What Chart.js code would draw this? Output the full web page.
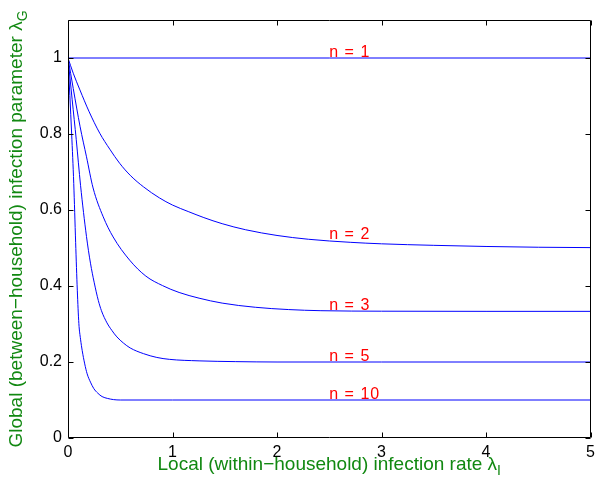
<!DOCTYPE html>
<html>
<head>
<meta charset="utf-8">
<script src="https://cdn.jsdelivr.net/npm/chart.js@4.4.1/dist/chart.umd.min.js"></script>
<style>
  html, body { margin: 0; padding: 0; background: #fff; }
  #wrap { width: 600px; height: 479px; }
</style>
</head>
<body>
<div id="wrap"><canvas id="chart" width="600" height="479"></canvas></div>
<script>
// values
const n1X = [0, 5]
const n1Y = [1, 1]
const n2X = [0, 0.05, 0.114, 0.2, 0.304, 0.4, 0.494, 0.6, 0.722, 0.874, 1.0, 1.15, 1.3, 1.475, 1.7, 2.0, 2.3, 2.7, 3.0, 3.5, 4.0, 4.5, 5.0]
const n2Y = [1, 0.96, 0.916, 0.86, 0.802, 0.76, 0.723, 0.69, 0.661, 0.632, 0.613, 0.596, 0.58, 0.564, 0.548, 0.533, 0.523, 0.515, 0.511, 0.507, 0.504, 0.502, 0.501]
const n3X = [0, 0.05, 0.116, 0.177, 0.24, 0.337, 0.432, 0.59, 0.745, 0.905, 1.063, 1.254, 1.475, 1.792, 2.108, 2.42, 3.0, 4.0, 5.0]
const n3Y = [1, 0.92, 0.819, 0.74, 0.658, 0.582, 0.529, 0.468, 0.426, 0.401, 0.383, 0.368, 0.355, 0.344, 0.338, 0.335, 0.3337, 0.3333, 0.3333]
const n5X = [0, 0.04, 0.079, 0.12, 0.177, 0.215, 0.25, 0.29, 0.32, 0.373, 0.42, 0.468, 0.53, 0.595, 0.722, 0.85, 0.969, 1.254, 1.6, 2.0, 3.0, 5.0]
const n5Y = [1, 0.89, 0.785, 0.665, 0.53, 0.46, 0.41, 0.362, 0.335, 0.303, 0.283, 0.266, 0.25, 0.237, 0.222, 0.212, 0.207, 0.203, 0.201, 0.2, 0.2, 0.2]
const n10X = [0, 0.035, 0.055, 0.073, 0.089, 0.104, 0.12, 0.136, 0.16, 0.183, 0.215, 0.247, 0.285, 0.326, 0.38, 0.437, 0.5, 1.0, 5.0]
const n10Y = [1, 0.8, 0.67, 0.515, 0.389, 0.301, 0.26, 0.23, 0.195, 0.169, 0.147, 0.13, 0.118, 0.109, 0.104, 0.101, 0.1, 0.1, 0.1]

const curveLabels = ['n = 1', 'n = 2', 'n = 3', 'n = 5', 'n = 10']
const labelX = [2.5, 2.5, 2.5, 2.5, 2.5]
const labelY = [1, 0.52, 0.335, 0.2, 0.1]

const xTicks = [0, 1, 2, 3, 4, 5]
const yTicks = [0, 0.2, 0.4, 0.6, 0.8, 1]

const xTitle = 'Local (within\u2212household) infection rate \u03bb'
const xTitleSub = 'I'
const yTitle = 'Global (between\u2212household) infection parameter \u03bb'
const yTitleSub = 'G'

const GREEN = '#118811'
const FONT = '"Liberation Sans", Arial, Helvetica, sans-serif'

const pts = (xs, ys) => xs.map((x, i) => ({ x, y: ys[i] }))
const line = (xs, ys) => ({ data: pts(xs, ys), borderColor: '#0000ff', borderWidth: 1, pointRadius: 0, cubicInterpolationMode: 'monotone', fill: false })

// frame, inward ticks, curve labels, axis titles
const decor = {
  id: 'decor',
  afterDraw(chart){
    const ctx = chart.ctx
    const a = chart.chartArea
    const xs = chart.scales.x, ys = chart.scales.y
    ctx.save()
    ctx.strokeStyle = '#000'
    ctx.lineWidth = 1
    const L = Math.round(a.left) + 0.5, R = Math.round(a.right) - 0.5
    const T = Math.round(a.top) + 0.5, B = Math.round(a.bottom) - 0.5
    ctx.beginPath()
    ctx.rect(L, T, R - L, B - T)
    xTicks.forEach(v => {
      const p = Math.round(xs.getPixelForValue(v)) + 0.5
      ctx.moveTo(p, B); ctx.lineTo(p, B - 5)
      ctx.moveTo(p, T); ctx.lineTo(p, T + 5)
    })
    yTicks.forEach(v => {
      const p = Math.round(ys.getPixelForValue(v)) + 0.5
      ctx.moveTo(L, p); ctx.lineTo(L + 5, p)
      ctx.moveTo(R, p); ctx.lineTo(R - 5, p)
    })
    ctx.stroke()

    // curve labels
    ctx.fillStyle = '#ff0000'
    ctx.font = '16px ' + FONT
    if ('letterSpacing' in ctx) ctx.letterSpacing = '1px'
    ctx.textBaseline = 'alphabetic'
    ctx.textAlign = 'left'
    curveLabels.forEach((t, i) => {
      ctx.fillText(t, xs.getPixelForValue(labelX[i]), ys.getPixelForValue(labelY[i]) - 1)
    })
    if ('letterSpacing' in ctx) ctx.letterSpacing = '0px'

    // axis titles with subscripts
    ctx.fillStyle = GREEN
    const main = '19px ' + FONT, sub = '14px ' + FONT
    ctx.font = main
    let w1 = ctx.measureText(xTitle).width
    ctx.font = sub
    let w2 = ctx.measureText(xTitleSub).width
    let x0 = (a.left + a.right) / 2 - (w1 + w2) / 2
    ctx.font = main
    ctx.fillText(xTitle, x0, 470)
    ctx.font = sub
    ctx.fillText(xTitleSub, x0 + w1, 475)

    ctx.translate(22, (a.top + a.bottom) / 2)
    ctx.rotate(-Math.PI / 2)
    ctx.font = main
    w1 = ctx.measureText(yTitle).width
    ctx.font = sub
    w2 = ctx.measureText(yTitleSub).width
    x0 = -(w1 + w2) / 2
    ctx.font = main
    ctx.fillText(yTitle, x0, 0)
    ctx.font = sub
    ctx.fillText(yTitleSub, x0 + w1, 5)
    ctx.restore()
  }
}

new Chart(document.getElementById('chart').getContext('2d'), {
  type: 'line',
  data: {
    datasets: [line(n1X, n1Y), line(n2X, n2Y), line(n3X, n3Y), line(n5X, n5Y), line(n10X, n10Y)]
  },
  options: {
    responsive: false,
    animation: false,
    layout: { padding: { top: 20, right: 4, left: 0, bottom: 0 } },
    plugins: { legend: { display: false }, tooltip: { enabled: false } },
    scales: {
      x: {
        type: 'linear', min: 0, max: 5,
        afterBuildTicks: s => { s.ticks = xTicks.map(v => ({ value: v })) },
        afterFit: s => { s.height = 41 },
        grid: { display: false, drawTicks: false },
        border: { display: false },
        ticks: { color: '#000', font: { family: FONT, size: 16 }, padding: 5, maxRotation: 0, callback: v => String(v) }
      },
      y: {
        type: 'linear', min: 0, max: 1.1,
        afterBuildTicks: s => { s.ticks = yTicks.map(v => ({ value: v })) },
        afterFit: s => { s.width = 68 },
        grid: { display: false, drawTicks: false },
        border: { display: false },
        ticks: { color: '#000', font: { family: FONT, size: 16 }, padding: 6, callback: v => String(+Number(v).toFixed(1)) }
      }
    }
  },
  plugins: [decor]
})
</script>
</body>
</html>
